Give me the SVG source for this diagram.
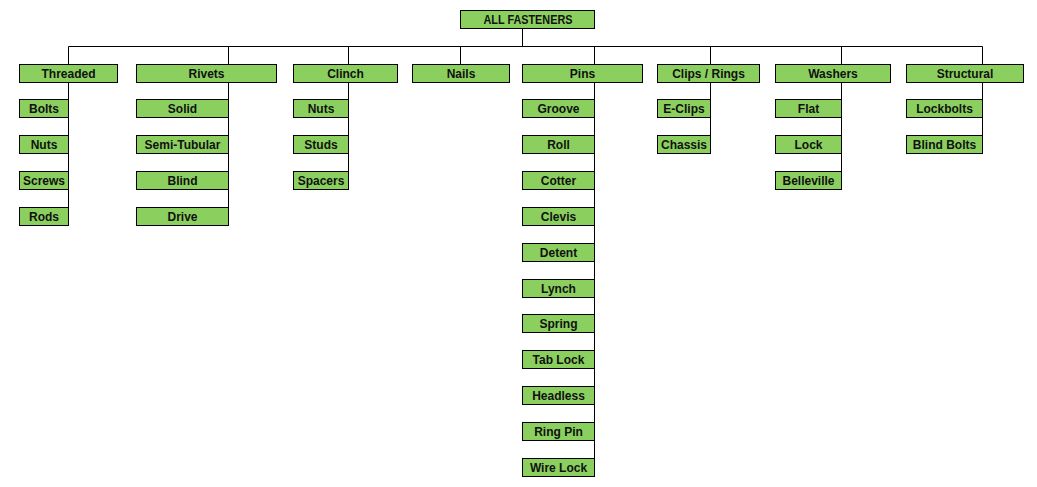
<svg xmlns="http://www.w3.org/2000/svg" width="1037" height="487" viewBox="0 0 1037 487">
<style>
.b{fill:#8BD05F;stroke:#000;stroke-width:1}
.t{font-family:"Liberation Sans",Arial,sans-serif;font-weight:bold;font-size:12px;fill:#111;text-anchor:middle}
.c{fill:none;stroke:#000;stroke-width:1}
</style>
<rect width="1037" height="487" fill="#fff"/>
<g id="connectors" class="c">
<path d="M522.5 28.5V46.5M68.5 46.5H982.5"/>
<path d="M68.5 46.5V225.5"/>
<path d="M228.5 46.5V225.5"/>
<path d="M348.5 46.5V189.5"/>
<path d="M460.5 46.5V64.5"/>
<path d="M594.5 46.5V476.5"/>
<path d="M710.5 46.5V153.5"/>
<path d="M841.5 46.5V189.5"/>
<path d="M982.5 46.5V153.5"/>
</g>
<g id="all-fasteners"><rect class="b" x="460.5" y="10.5" width="134" height="18"/><text class="t" x="528" y="24" textLength="89" lengthAdjust="spacingAndGlyphs">ALL FASTENERS</text></g>

<g id="threaded"><rect class="b" x="19.5" y="64.5" width="98" height="18"/><text class="t" x="68.5" y="78">Threaded</text></g>
<g id="rivets"><rect class="b" x="136.5" y="64.5" width="140" height="18"/><text class="t" x="206.5" y="78">Rivets</text></g>
<g id="clinch"><rect class="b" x="293.5" y="64.5" width="104" height="18"/><text class="t" x="345.5" y="78">Clinch</text></g>
<g id="nails"><rect class="b" x="412.5" y="64.5" width="97" height="18"/><text class="t" x="461" y="78">Nails</text></g>
<g id="pins"><rect class="b" x="522.5" y="64.5" width="120" height="18"/><text class="t" x="582.5" y="78">Pins</text></g>
<g id="clips-rings"><rect class="b" x="657.5" y="64.5" width="102" height="18"/><text class="t" x="708.5" y="78">Clips / Rings</text></g>
<g id="washers"><rect class="b" x="775.5" y="64.5" width="115" height="18"/><text class="t" x="833" y="78">Washers</text></g>
<g id="structural"><rect class="b" x="906.5" y="64.5" width="117" height="18"/><text class="t" x="965" y="78">Structural</text></g>

<g id="threaded-bolts"><rect class="b" x="19.5" y="99.5" width="49" height="18"/><text class="t" x="44" y="113">Bolts</text></g>
<g id="threaded-nuts"><rect class="b" x="19.5" y="135.5" width="49" height="18"/><text class="t" x="44" y="149">Nuts</text></g>
<g id="threaded-screws"><rect class="b" x="19.5" y="171.5" width="49" height="18"/><text class="t" x="44" y="185">Screws</text></g>
<g id="threaded-rods"><rect class="b" x="19.5" y="207.5" width="49" height="18"/><text class="t" x="44" y="221">Rods</text></g>

<g id="rivets-solid"><rect class="b" x="136.5" y="99.5" width="92" height="18"/><text class="t" x="182.5" y="113">Solid</text></g>
<g id="rivets-semi-tubular"><rect class="b" x="136.5" y="135.5" width="92" height="18"/><text class="t" x="182.5" y="149">Semi-Tubular</text></g>
<g id="rivets-blind"><rect class="b" x="136.5" y="171.5" width="92" height="18"/><text class="t" x="182.5" y="185">Blind</text></g>
<g id="rivets-drive"><rect class="b" x="136.5" y="207.5" width="92" height="18"/><text class="t" x="182.5" y="221">Drive</text></g>

<g id="clinch-nuts"><rect class="b" x="293.5" y="99.5" width="55" height="18"/><text class="t" x="321" y="113">Nuts</text></g>
<g id="clinch-studs"><rect class="b" x="293.5" y="135.5" width="55" height="18"/><text class="t" x="321" y="149">Studs</text></g>
<g id="clinch-spacers"><rect class="b" x="293.5" y="171.5" width="55" height="18"/><text class="t" x="321" y="185">Spacers</text></g>

<g id="pins-groove"><rect class="b" x="522.5" y="99.5" width="72" height="18"/><text class="t" x="558.5" y="113">Groove</text></g>
<g id="pins-roll"><rect class="b" x="522.5" y="135.5" width="72" height="18"/><text class="t" x="558.5" y="149">Roll</text></g>
<g id="pins-cotter"><rect class="b" x="522.5" y="171.5" width="72" height="18"/><text class="t" x="558.5" y="185">Cotter</text></g>
<g id="pins-clevis"><rect class="b" x="522.5" y="207.5" width="72" height="18"/><text class="t" x="558.5" y="221">Clevis</text></g>
<g id="pins-detent"><rect class="b" x="522.5" y="243.5" width="72" height="18"/><text class="t" x="558.5" y="257">Detent</text></g>
<g id="pins-lynch"><rect class="b" x="522.5" y="279.5" width="72" height="18"/><text class="t" x="558.5" y="293">Lynch</text></g>
<g id="pins-spring"><rect class="b" x="522.5" y="314.5" width="72" height="18"/><text class="t" x="558.5" y="328">Spring</text></g>
<g id="pins-tab-lock"><rect class="b" x="522.5" y="350.5" width="72" height="18"/><text class="t" x="558.5" y="364">Tab Lock</text></g>
<g id="pins-headless"><rect class="b" x="522.5" y="386.5" width="72" height="18"/><text class="t" x="558.5" y="400">Headless</text></g>
<g id="pins-ring-pin"><rect class="b" x="522.5" y="422.5" width="72" height="18"/><text class="t" x="558.5" y="436">Ring Pin</text></g>
<g id="pins-wire-lock"><rect class="b" x="522.5" y="458.5" width="72" height="18"/><text class="t" x="558.5" y="472">Wire Lock</text></g>

<g id="clips-e-clips"><rect class="b" x="657.5" y="99.5" width="53" height="18"/><text class="t" x="684" y="113">E-Clips</text></g>
<g id="clips-chassis"><rect class="b" x="657.5" y="135.5" width="53" height="18"/><text class="t" x="684" y="149">Chassis</text></g>

<g id="washers-flat"><rect class="b" x="775.5" y="99.5" width="66" height="18"/><text class="t" x="808.5" y="113">Flat</text></g>
<g id="washers-lock"><rect class="b" x="775.5" y="135.5" width="66" height="18"/><text class="t" x="808.5" y="149">Lock</text></g>
<g id="washers-belleville"><rect class="b" x="775.5" y="171.5" width="66" height="18"/><text class="t" x="808.5" y="185">Belleville</text></g>

<g id="structural-lockbolts"><rect class="b" x="906.5" y="99.5" width="76" height="18"/><text class="t" x="944.5" y="113">Lockbolts</text></g>
<g id="structural-blind-bolts"><rect class="b" x="906.5" y="135.5" width="76" height="18"/><text class="t" x="944.5" y="149">Blind Bolts</text></g>
</svg>
